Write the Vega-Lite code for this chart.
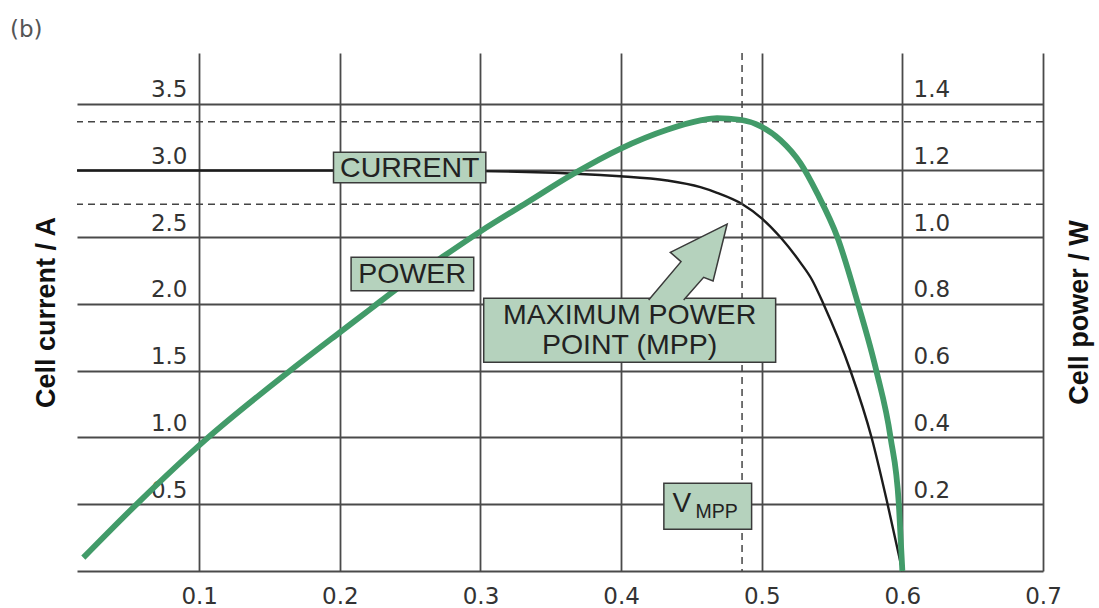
{
  "$schema": "https://vega.github.io/schema/vega-lite/v6.json",
  "width": 966,
  "height": 518,
  "autosize": {"type": "none"},
  "padding": {"left": 77, "top": 53, "right": 56, "bottom": 37},
  "background": "white",
  "title": {
    "text": "(b)",
    "anchor": "start",
    "frame": "group",
    "orient": "top",
    "dx": -67,
    "offset": -8,
    "baseline": "alphabetic",
    "font": "DejaVu Sans",
    "fontSize": 23,
    "fontWeight": "normal",
    "color": "#555555"
  },
  "datasets": {
    "current": [
      {"V": 0.0131, "I": 3.0},
      {"V": 0.1, "I": 3.0},
      {"V": 0.2, "I": 3.0},
      {"V": 0.3, "I": 2.995},
      {"V": 0.3852, "I": 2.966},
      {"V": 0.3994, "I": 2.957},
      {"V": 0.4327, "I": 2.925},
      {"V": 0.4564, "I": 2.875},
      {"V": 0.4682, "I": 2.833},
      {"V": 0.486, "I": 2.749},
      {"V": 0.5002, "I": 2.64},
      {"V": 0.5133, "I": 2.5},
      {"V": 0.5275, "I": 2.31},
      {"V": 0.5358, "I": 2.18},
      {"V": 0.5439, "I": 2.0},
      {"V": 0.5631, "I": 1.5},
      {"V": 0.5781, "I": 1.0},
      {"V": 0.5895, "I": 0.5},
      {"V": 0.6, "I": 0.0}
    ],
    "power": [
      {"V": 0.0176, "P": 0.04},
      {"V": 0.0567, "P": 0.205},
      {"V": 0.105, "P": 0.395},
      {"V": 0.1646, "P": 0.6},
      {"V": 0.2, "P": 0.715},
      {"V": 0.2218, "P": 0.785},
      {"V": 0.2381, "P": 0.838},
      {"V": 0.2737, "P": 0.943},
      {"V": 0.2998, "P": 1.017},
      {"V": 0.3331, "P": 1.104},
      {"V": 0.3662, "P": 1.19},
      {"V": 0.3994, "P": 1.265},
      {"V": 0.4327, "P": 1.322},
      {"V": 0.4564, "P": 1.35},
      {"V": 0.4682, "P": 1.357},
      {"V": 0.4848, "P": 1.352},
      {"V": 0.499, "P": 1.333},
      {"V": 0.5133, "P": 1.291},
      {"V": 0.5275, "P": 1.222},
      {"V": 0.5394, "P": 1.132},
      {"V": 0.5538, "P": 1.0},
      {"V": 0.5685, "P": 0.8},
      {"V": 0.5815, "P": 0.6},
      {"V": 0.5916, "P": 0.4},
      {"V": 0.5975, "P": 0.2},
      {"V": 0.6, "P": 0.0}
    ],
    "mpp": [
      {"V": 0.486, "I": 2.747, "P": 1.346}
    ],
    "boxes": [
      {"x1": 0.1955, "x2": 0.3038, "y1": 3.136, "y2": 2.909},
      {"x1": 0.208, "x2": 0.2952, "y1": 2.35, "y2": 2.1},
      {"x1": 0.3023, "x2": 0.5099, "y1": 2.043, "y2": 1.563},
      {"x1": 0.4304, "x2": 0.4928, "y1": 0.657, "y2": 0.312}
    ],
    "arrow": [
      {"k": 0, "x": 0.4445, "y": 2.03},
      {"k": 1, "x": 0.4587, "y": 2.2},
      {"k": 2, "x": 0.4654, "y": 2.172},
      {"k": 3, "x": 0.4754, "y": 2.599},
      {"k": 4, "x": 0.435, "y": 2.387},
      {"k": 5, "x": 0.4426, "y": 2.317},
      {"k": 6, "x": 0.4196, "y": 2.03}
    ],
    "labels": [
      {"t": "CURRENT", "x": 0.2497, "y": 2.949},
      {"t": "POWER", "x": 0.2514, "y": 2.155},
      {"t": "MAXIMUM POWER", "x": 0.406, "y": 1.85},
      {"t": "POINT (MPP)", "x": 0.406, "y": 1.625}
    ],
    "vmain": [
      {"t": "V", "x": 0.4366, "y": 0.44}
    ],
    "vsub": [
      {"t": "MPP", "x": 0.4529, "y": 0.395}
    ]
  },
  "layer": [
    {
      "layer": [
        {
          "data": {"name": "current"},
          "mark": {"type": "line", "color": "#1c1c1c", "strokeWidth": 2.4, "interpolate": "monotone"},
          "encoding": {
            "x": {
              "field": "V", "type": "quantitative", "title": null,
              "scale": {"domain": [0.0131, 0.7], "nice": false, "zero": false},
              "axis": {"values": [0.1, 0.2, 0.3, 0.4, 0.5, 0.6, 0.7], "format": ".1f"}
            },
            "y": {
              "field": "I", "type": "quantitative", "title": "Cell current / A",
              "scale": {"domain": [0, 3.88], "nice": false, "zero": true},
              "axis": {"values": [0.5, 1.0, 1.5, 2.0, 2.5, 3.0, 3.5], "format": ".1f"}
            }
          }
        },
        {
          "data": {"name": "mpp"},
          "mark": {"type": "rule", "color": "#444444", "strokeWidth": 1.5, "strokeDash": [7, 5]},
          "encoding": {
            "x": {"field": "V", "type": "quantitative", "title": null}
          }
        },
        {
          "data": {"name": "mpp"},
          "mark": {"type": "rule", "color": "#444444", "strokeWidth": 1.5, "strokeDash": [7, 5]},
          "encoding": {
            "y": {"field": "I", "type": "quantitative", "title": "Cell current / A"}
          }
        }
      ]
    },
    {
      "layer": [
        {
          "data": {"name": "mpp"},
          "mark": {"type": "rule", "color": "#444444", "strokeWidth": 1.5, "strokeDash": [7, 5]},
          "encoding": {
            "y": {
              "field": "P", "type": "quantitative", "title": "Cell power / W",
              "scale": {"domain": [0, 1.552], "nice": false, "zero": true},
              "axis": {"orient": "right", "values": [0.2, 0.4, 0.6, 0.8, 1.0, 1.2, 1.4], "format": ".1f", "grid": false}
            }
          }
        },
        {
          "data": {"name": "power"},
          "mark": {"type": "line", "color": "#429b69", "strokeWidth": 5.8, "strokeCap": "butt", "interpolate": "monotone"},
          "encoding": {
            "x": {"field": "V", "type": "quantitative", "title": null},
            "y": {"field": "P", "type": "quantitative", "title": "Cell power / W"}
          }
        }
      ]
    },
    {
      "layer": [
        {
          "data": {"name": "boxes"},
          "mark": {"type": "rect", "fill": "#b5d2bd", "stroke": "#3a3a3a", "strokeWidth": 1.5},
          "encoding": {
            "x": {"field": "x1", "type": "quantitative", "title": null},
            "x2": {"field": "x2"},
            "y": {"field": "y1", "type": "quantitative", "title": null, "scale": {"domain": [0, 3.88], "nice": false, "zero": true}, "axis": null},
            "y2": {"field": "y2"}
          }
        },
        {
          "data": {"name": "arrow"},
          "mark": {"type": "line", "fill": "#b5d2bd", "stroke": "#3a3a3a", "strokeWidth": 1.5, "strokeJoin": "miter"},
          "encoding": {
            "x": {"field": "x", "type": "quantitative", "title": null},
            "y": {"field": "y", "type": "quantitative", "title": null, "axis": null},
            "order": {"field": "k"}
          }
        },
        {
          "data": {"name": "labels"},
          "mark": {"type": "text", "font": "Liberation Sans", "fontSize": 28.5, "color": "#222222", "align": "center", "baseline": "alphabetic"},
          "encoding": {
            "x": {"field": "x", "type": "quantitative", "title": null},
            "y": {"field": "y", "type": "quantitative", "title": null, "axis": null},
            "text": {"field": "t"}
          }
        },
        {
          "data": {"name": "vmain"},
          "mark": {"type": "text", "font": "Liberation Sans", "fontSize": 28, "color": "#222222", "align": "left", "baseline": "alphabetic"},
          "encoding": {
            "x": {"field": "x", "type": "quantitative", "title": null},
            "y": {"field": "y", "type": "quantitative", "title": null, "axis": null},
            "text": {"field": "t"}
          }
        },
        {
          "data": {"name": "vsub"},
          "mark": {"type": "text", "font": "Liberation Sans", "fontSize": 19.5, "color": "#222222", "align": "left", "baseline": "alphabetic"},
          "encoding": {
            "x": {"field": "x", "type": "quantitative", "title": null},
            "y": {"field": "y", "type": "quantitative", "title": null, "axis": null},
            "text": {"field": "t"}
          }
        }
      ]
    }
  ],
  "resolve": {"scale": {"y": "independent"}},
  "config": {
    "view": {"stroke": null},
    "axis": {
      "ticks": false,
      "tickSize": 0,
      "labelFont": "DejaVu Sans",
      "labelFontSize": 23,
      "labelColor": "#333333",
      "gridColor": "#4a4a4a",
      "gridWidth": 1.8,
      "gridOpacity": 1,
      "titleFont": "Liberation Sans",
      "titleFontWeight": "bold",
      "titleFontSize": 27,
      "titleColor": "#111111"
    },
    "axisBottom": {
      "domain": true,
      "domainColor": "#4a4a4a",
      "domainWidth": 2.2,
      "labelPadding": 14,
      "labelFlush": false,
      "grid": true
    },
    "axisLeft": {
      "domain": false,
      "labelPadding": -110,
      "labelAlign": "right",
      "labelBaseline": "alphabetic",
      "labelOffset": -7,
      "grid": true,
      "titleAngle": -90,
      "titleX": -30.5,
      "titleY": 259,
      "titleAlign": "center",
      "titleBaseline": "middle"
    },
    "axisRight": {
      "domain": false,
      "labelPadding": -130,
      "labelAlign": "left",
      "labelBaseline": "alphabetic",
      "labelOffset": -7,
      "grid": false,
      "titleAngle": -90,
      "titleX": 36.5,
      "titleY": 259,
      "titleAlign": "center",
      "titleBaseline": "middle"
    }
  }
}
